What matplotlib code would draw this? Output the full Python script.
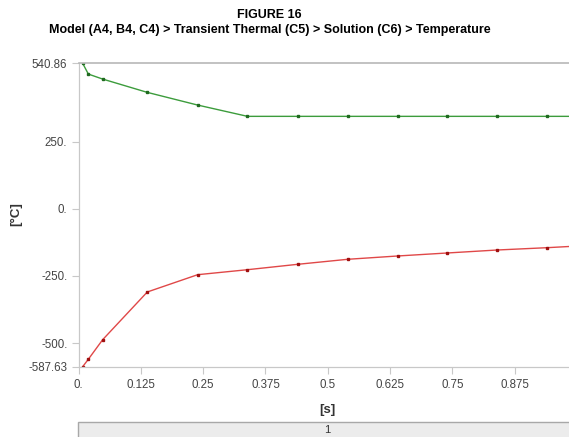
import matplotlib
matplotlib.use('Agg')
import matplotlib.pyplot as plt
from matplotlib.patches import Rectangle

# Time steps [s]
time_s = [0.0084, 0.0197, 0.0485, 0.138, 0.239, 0.339, 0.44, 0.54, 0.64, 0.74, 0.84, 0.94, 1.0]

# Maximum temperature [°C]
temp_max = [540.86, 501.0, 482.4, 432.9, 385.7, 343.7, 343.7, 343.7, 343.7, 343.7, 343.7, 343.7, 343.7]

# Minimum temperature [°C]
temp_min = [-587.63, -560.1, -487.2, -309.8, -245.5, -226.9, -206.8, -188.2, -175.9, -164.7, -153.6, -145.0, -139.0]

# Axis ticks
x_ticks = [0.0, 0.125, 0.25, 0.375, 0.5, 0.625, 0.75, 0.875, 1.0]
x_tick_labels = ['0.', '0.125', '0.25', '0.375', '0.5', '0.625', '0.75', '0.875', '1.']
y_ticks = [-587.63, -500.0, -250.0, 0.0, 250.0, 540.86]
y_tick_labels = ['-587.63', '-500.', '-250.', '0.', '250.', '540.86']

plt.rcParams['font.family'] = ['Liberation Sans', 'DejaVu Sans']

fig = plt.figure(figsize=(5.69, 4.37), dpi=100)
ax = fig.add_axes([0.138, 0.161, 0.876, 0.694])

# Series
ax.plot(time_s, temp_max, color='#3c9c3c', linewidth=1.0, marker='s', markersize=2.0,
        markerfacecolor='#1f6a1f', markeredgecolor='#1f6a1f')
ax.plot(time_s, temp_min, color='#e04848', linewidth=1.0, marker='s', markersize=2.0,
        markerfacecolor='#a01010', markeredgecolor='#a01010')

ax.set_xlim(0, 1.0)
ax.set_ylim(-587.63, 540.86)

ax.set_xticks(x_ticks)
ax.set_xticklabels(x_tick_labels)
ax.set_yticks(y_ticks)
ax.set_yticklabels(y_tick_labels)

ax.tick_params(axis='both', colors='#c8c8c8', labelcolor='#444444', labelsize=8.3, length=5, width=0.8)
ax.tick_params(axis='x', pad=4)
ax.tick_params(axis='y', pad=3)

for side in ['left', 'bottom', 'top', 'right']:
    ax.spines[side].set_color('#c8c8c8')
    ax.spines[side].set_linewidth(0.9)
ax.spines['top'].set_color('#b8b8b8')
ax.spines['top'].set_linewidth(1.2)

# Axis labels
ax.set_xlabel('[s]', fontweight='bold', fontsize=9.5, color='#333333', labelpad=9)
fig.text(0.028, 0.51, '[°C]', rotation=90, fontweight='bold', fontsize=9.5,
         color='#333333', ha='center', va='center')

# Titles
fig.text(0.474, 0.966, 'FIGURE 16', fontweight='bold', fontsize=9, ha='center', va='center')
fig.text(0.474, 0.932, 'Model (A4, B4, C4) > Transient Thermal (C5) > Solution (C6) > Temperature',
         fontweight='bold', fontsize=9, ha='center', va='center')

# Bottom step bar
bar = Rectangle((0.137, -0.01), 0.9, 0.045, transform=fig.transFigure,
                facecolor='#ececec', edgecolor='#a8a8a8', linewidth=1.0)
fig.patches.append(bar)
fig.text(0.575, 0.016, '1', fontsize=8, color='#333333', ha='center', va='center')

plt.savefig('out.png', dpi=100)
